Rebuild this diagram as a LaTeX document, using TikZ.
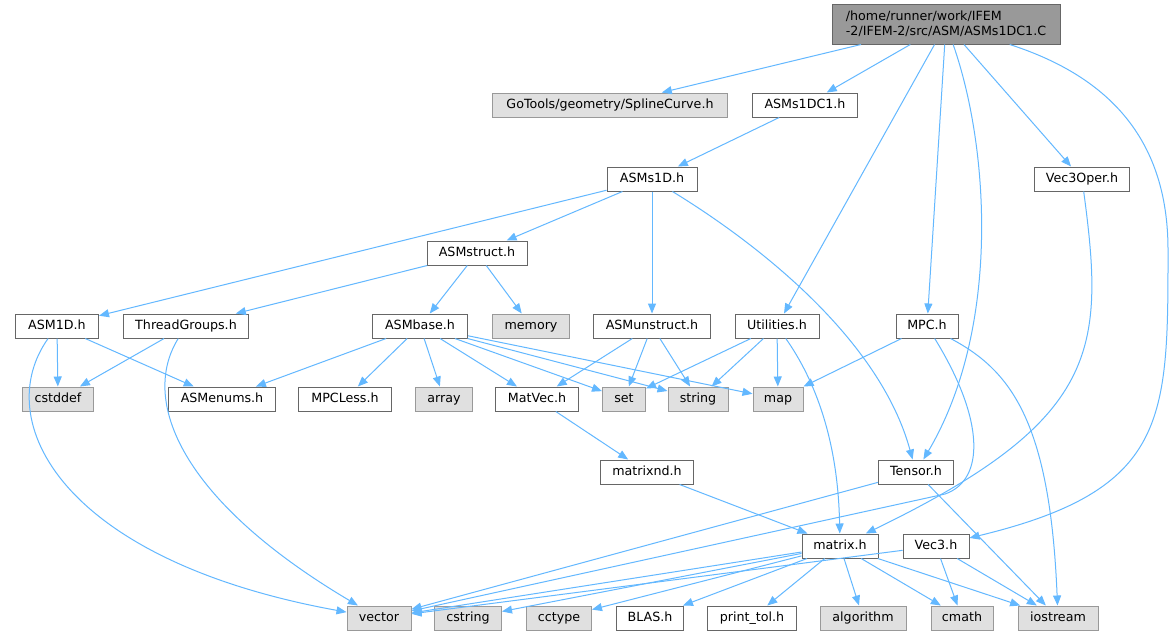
\documentclass[tikz,border=0pt]{standalone}
\usepackage{fontspec}
\setmainfont{DejaVu Sans}
\usetikzlibrary{arrows.meta}
\definecolor{edgeblue}{HTML}{63B8FF}
\definecolor{boxline}{HTML}{666666}
\definecolor{sysline}{HTML}{999999}
\definecolor{sysfill}{HTML}{E0E0E0}
\begin{document}
\begin{tikzpicture}[x=0.75pt,y=-0.75pt,
  box/.style={draw=boxline, fill=white, line width=0.75pt, minimum height=18pt, inner xsep=2pt, inner ysep=0pt, font=\fontsize{9.5pt}{11.25pt}\selectfont},
  hdr/.style={box, text height=7pt, text depth=2pt},
  sys/.style={hdr, draw=sysline, fill=sysfill},
  bw/.style={minimum width=#1*0.75pt},
  dep/.style={draw=edgeblue, line width=0.75pt, -{Triangle[length=7.5pt,width=6pt]}}]
\fill[white] (0,0) rectangle (1173,637);
\useasboundingbox (0,0) rectangle (1173,637);
\node[box, bw=228, minimum height=30pt, fill=sysline, align=left] (inc0) at (946,24){/home/runner/work/IFEM\\-2/IFEM-2/src/ASM/ASMs1DC1.C};
\node[sys, bw=235] (inc1) at (610,105){GoTools/geometry/SplineCurve.h};
\node[hdr, bw=105] (inc2) at (805,105){ASMs1DC1.h};
\node[hdr, bw=95] (inc3) at (1082,179){Vec3Oper.h};
\node[hdr, bw=90] (inc4) at (652,179){ASMs1D.h};
\node[hdr, bw=100] (inc5) at (477,253){ASMstruct.h};
\node[hdr, bw=83] (inc6) at (57,326){ASM1D.h};
\node[hdr, bw=125] (inc7) at (186,326){ThreadGroups.h};
\node[hdr, bw=95] (inc8) at (420,326){ASMbase.h};
\node[sys, bw=77] (inc9) at (531,326){memory};
\node[hdr, bw=117] (inc10) at (652,326){ASMunstruct.h};
\node[hdr, bw=84] (inc11) at (777,326){Utilities.h};
\node[hdr, bw=62] (inc12) at (927,326){MPC.h};
\node[sys, bw=71] (inc13) at (58,399){cstddef};
\node[hdr, bw=107] (inc14) at (222,399){ASMenums.h};
\node[hdr, bw=93] (inc15) at (345,399){MPCLess.h};
\node[sys, bw=57] (inc16) at (444,399){array};
\node[hdr, bw=83] (inc17) at (537,399){MatVec.h};
\node[sys, bw=43] (inc18) at (624,399){set};
\node[sys, bw=60] (inc19) at (698,399){string};
\node[sys, bw=50] (inc20) at (778,399){map};
\node[hdr, bw=93] (inc21) at (647,472){matrixnd.h};
\node[hdr, bw=75] (inc22) at (916,472){Tensor.h};
\node[hdr, bw=76] (inc23) at (840,546){matrix.h};
\node[hdr, bw=66] (inc24) at (936,546){Vec3.h};
\node[sys, bw=64] (inc25) at (379,618){vector};
\node[sys, bw=67] (inc26) at (468,618){cstring};
\node[sys, bw=65] (inc27) at (559,618){cctype};
\node[hdr, bw=67] (inc28) at (650,618){BLAS.h};
\node[hdr, bw=89] (inc29) at (752,618){print\_tol.h};
\node[sys, bw=86] (inc30) at (863,618){algorithm};
\node[sys, bw=62] (inc31) at (962,618){cmath};
\node[sys, bw=80] (inc32) at (1058,618){iostream};
% from the source file
\draw[dep](inc0) -- (inc1);
\draw[dep](inc0) -- (inc2);
\draw[dep](inc0) -- (inc11);
\draw[dep](inc0) -- (inc12);
\draw[dep](inc0) -- (inc3);
\draw[dep](inc0) .. controls (990,150) and (1000,330) .. (inc22);
\draw[dep](inc0) .. controls (1120,80) and (1168,150) .. (1168,250) .. controls (1168,420) and (1168,490) .. (inc24);
\draw[dep](inc2) -- (inc4);
\draw[dep](inc4) -- (inc6);
\draw[dep](inc4) -- (inc5);
\draw[dep](inc4) -- (inc10);
\draw[dep](inc4) .. controls (760,245) and (880,340) .. (inc22);
\draw[dep](inc5) -- (inc7);
\draw[dep](inc5) -- (inc8);
\draw[dep](inc5) -- (inc9);
\draw[dep](inc6) -- (inc13);
\draw[dep](inc6) -- (inc14);
\draw[dep](inc6) .. controls (-10,420) and (60,560) .. (inc25);
\draw[dep](inc7) -- (inc13);
\draw[dep](inc7) .. controls (140,400) and (180,500) .. (inc25);
\draw[dep](inc8) -- (inc14);
\draw[dep](inc8) -- (inc15);
\draw[dep](inc8) -- (inc16);
\draw[dep](inc8) -- (inc17);
\draw[dep](inc8) -- (inc18);
\draw[dep](inc8) -- (inc19);
\draw[dep](inc8) -- (inc20);
\draw[dep](inc10) -- (inc17);
\draw[dep](inc10) -- (inc18);
\draw[dep](inc10) -- (inc19);
\draw[dep](inc11) -- (inc18);
\draw[dep](inc11) -- (inc19);
\draw[dep](inc11) -- (inc20);
\draw[dep](inc11) .. controls (815,380) and (838,440) .. (inc23);
\draw[dep](inc12) -- (inc20);
\draw[dep](inc12) .. controls (1010,370) and (1050,420) .. (inc32);
\draw[dep](inc12) .. controls (985,420) and (985,480) .. (945,494) -- (inc25);
\draw[dep](inc3) .. controls (1105,350) and (1100,420) .. (inc23);
\draw[dep](inc17) -- (inc21);
\draw[dep](inc21) -- (inc23);
\draw[dep](inc22) -- (inc25);
\draw[dep](inc22) -- (inc32);
% matrix.h and Vec3.h
\draw[dep](inc23) -- (inc25);
\draw[dep](inc23) -- (inc26);
\draw[dep](inc23) -- (inc27);
\draw[dep](inc23) -- (inc28);
\draw[dep](inc23) -- (inc29);
\draw[dep](inc23) -- (inc30);
\draw[dep](inc23) -- (inc31);
\draw[dep](inc23) -- (inc32);
\draw[dep](inc24) -- (inc25);
\draw[dep](inc24) -- (inc31);
\draw[dep](inc24) -- (inc32);
\end{tikzpicture}
\end{document}
